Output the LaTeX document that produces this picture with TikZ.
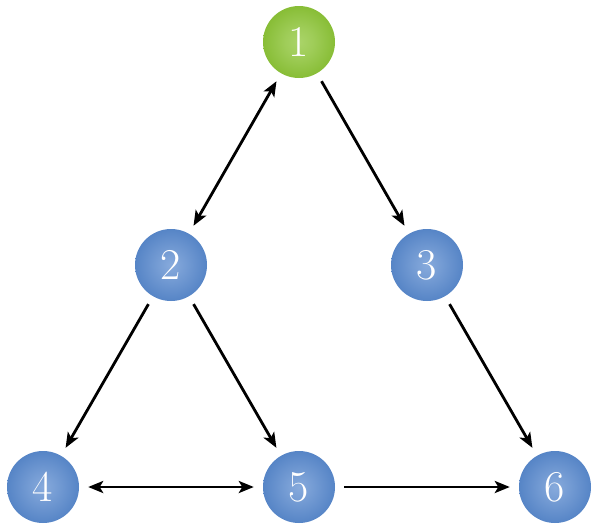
\documentclass[tikz,border=0pt]{standalone}
\usetikzlibrary{arrows.meta}
\definecolor{gin}{RGB}{170,212,105}
\definecolor{gout}{RGB}{125,182,38}
\definecolor{bin}{RGB}{135,170,220}
\definecolor{bout}{RGB}{72,122,192}
\pgfdeclareradialshading{greenball}{\pgfpoint{0bp}{0bp}}{color(0bp)=(gin); color(10bp)=(gin!75!gout); color(32bp)=(gout); color(50bp)=(gout)}
\pgfdeclareradialshading{blueball}{\pgfpoint{0bp}{0bp}}{color(0bp)=(bin); color(10bp)=(bin!70!bout); color(32bp)=(bout); color(50bp)=(bout)}
\tikzset{
  vtx/.style={circle, minimum size=72pt, inner sep=0pt, text=white,
    font=\fontsize{44}{44}\selectfont},
  gvtx/.style={vtx, shading=greenball},
  bvtx/.style={vtx, shading=blueball},
  link/.style={line width=2.8pt, shorten <=9pt, shorten >=9pt,
    -{Stealth[length=15pt,width=12pt,inset=3.5pt]}},
  dlink/.style={link, {Stealth[length=15pt,width=12pt,inset=3.5pt]}-{Stealth[length=15pt,width=12pt,inset=3.5pt]}}
}
\begin{document}
\begin{tikzpicture}[x=1pt,y=1pt]
\useasboundingbox (0,0) rectangle (600,-530);
\node[gvtx] (n1) at (299,-42) {1};
\node[bvtx] (n2) at (171,-265) {2};
\node[bvtx] (n3) at (427,-265) {3};
\node[bvtx] (n4) at (43,-487) {4};
\node[bvtx] (n5) at (299,-487) {5};
\node[bvtx] (n6) at (555,-487) {6};
\draw[dlink] (n1) -- (n2);
\draw[link] (n1) -- (n3);
\draw[link] (n2) -- (n4);
\draw[link] (n2) -- (n5);
\draw[link] (n3) -- (n6);
\draw[dlink] (n4) -- (n5);
\draw[link] (n5) -- (n6);
\end{tikzpicture}
\end{document}
